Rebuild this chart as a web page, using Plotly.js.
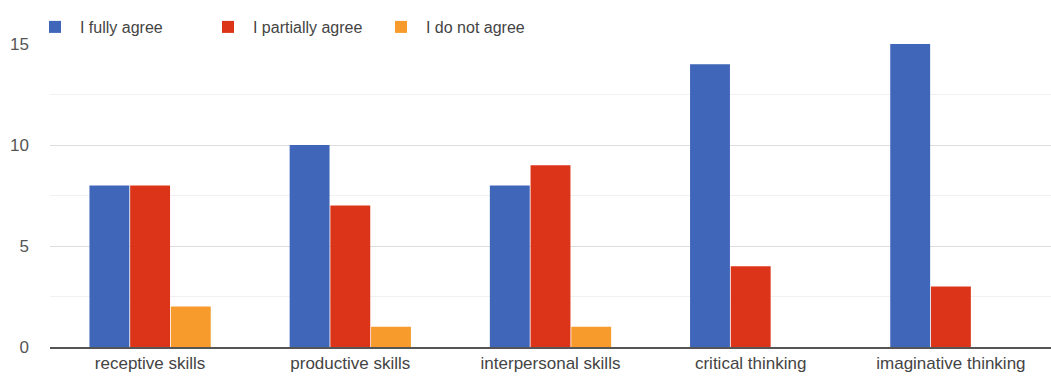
<!DOCTYPE html>
<html><head><meta charset="utf-8">
<script src="https://cdn.plot.ly/plotly-3.0.1.min.js"></script>
<style>html,body{margin:0;padding:0;background:#fff}#chart{width:1051px;height:383px}</style>
</head><body><div id="chart"></div>
<script>
const categories = ["receptive skills", "productive skills", "interpersonal skills", "critical thinking", "imaginative thinking"];
const seriesNames = ["I fully agree", "I partially agree", "I do not agree"];
const fullyAgree = [8, 10, 8, 14, 15];
const partiallyAgree = [8, 7, 9, 4, 3];
const notAgree = [2, 1, 1, 0, 0];
const yTicks = [0, 5, 10, 15];
const colors = ["#3f66b8", "#dc3418", "#f79b2c"];

const font = "Liberation Sans Narrow, Liberation Sans, Arial, sans-serif";
const vals = [fullyAgree, partiallyAgree, notAgree];
const data = vals.map((v, i) => ({
  type: "bar", x: categories, y: v, name: seriesNames[i],
  marker: {color: colors[i]}, hoverinfo: "x+y"
}));

const layout = {
  width: 1051, height: 383,
  margin: {l: 50, r: 0, t: 44, b: 36},
  paper_bgcolor: "#fff", plot_bgcolor: "#fff",
  barmode: "group", bargap: 0.39, bargroupgap: 0.02,
  font: {family: font, size: 15, color: "#444"},
  showlegend: true,
  legend: {orientation: "h", x: -0.02, xanchor: "left", y: 1.0, yanchor: "bottom",
           font: {family: font, size: 16, color: "#444"}, entrywidth: 118, itemwidth: 40,
           traceorder: "normal", bgcolor: "rgba(0,0,0,0)"},
  xaxis: {showgrid: false, showline: true, linecolor: "#555", linewidth: 2,
          tickfont: {family: font, size: 17, color: "#444"}, ticks: "", fixedrange: true},
  yaxis: {range: [0, 15], tickvals: yTicks, ticktext: yTicks.map(String),
          showgrid: true, gridcolor: "#dedede", gridwidth: 1, zeroline: false,
          minor: {dtick: 2.5, showgrid: true, gridcolor: "#f1f1f1", gridwidth: 1},
          tickfont: {family: font, size: 17, color: "#555"}, ticklabelstandoff: 20, fixedrange: true}
};
Plotly.newPlot("chart", data, layout, {displayModeBar: false, staticPlot: true});
</script></body></html>
